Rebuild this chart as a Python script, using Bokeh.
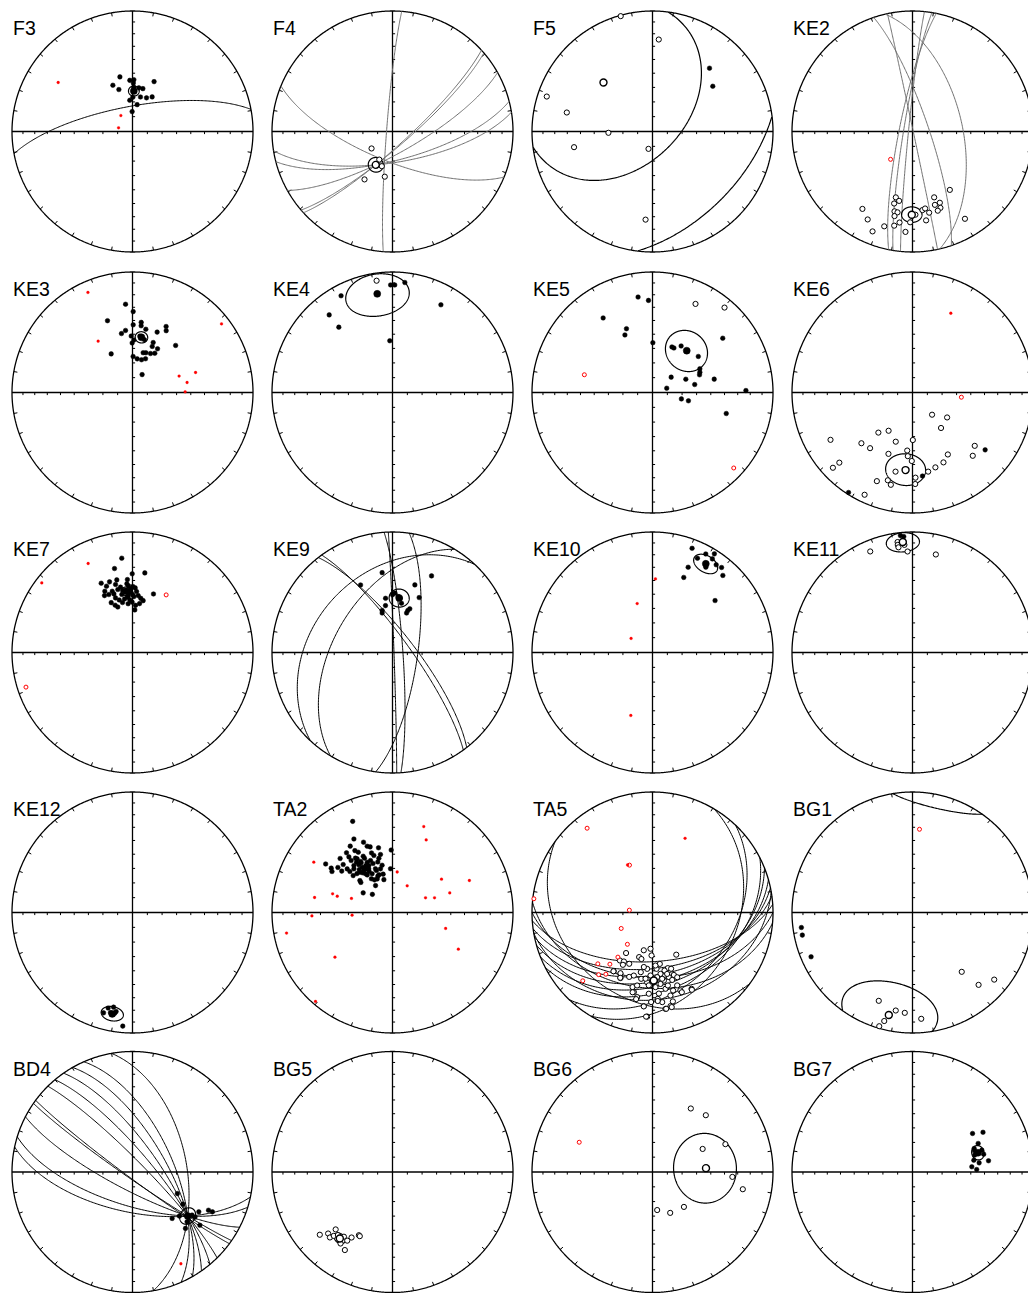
import numpy as np
from bokeh.plotting import figure
from bokeh.models import Range1d
from bokeh.embed import file_html
from bokeh.resources import INLINE
from bokeh.core.properties import value

# ---------------- DATA (declination, inclination; inc < 0 = upper hemisphere) ----------------
F3_dec = [347, 357, 1.5, 23.4, 337, 342, 1, 8.3, 13.6, 13, 22.6, 29.6, 0.5, 355, 9.8, 359, 1.7]
F3_inc = [51.6, 55, 54.6, 52.8, 55.7, 60, 57, 60, 60, 66, 65.3, 63, 66.8, 68.8, 71.6, 76.6, 60]
F3_rdec = [303.4, 323.9, 284.7]
F3_rinc = [27.0, 76.7, 80.3]
F3_mean = [1.9, 62.5, 3.5]
F3_gcdd = [349.4]
F3_gcdip = [73]

F4_dec = [231, 197.1, 205.2, 210.3, 189.7]
F4_inc = [-71.8, -65.4, -69, -52, -58.8]
F4_mean = [206.6, -64.7, 5]
F4_gcdd = [170.8, 165.5, 150.7, 139.3, 137.6, 274.4, 202.2]
F4_gcdip = [69, 70.4, 75.1, 79.7, 80.4, 86, 70]

F5_dec = [344.6, 3.9, 288.3, 282.5, 268.3, 258.7, 193, 184.5, 42, 53.1]
F5_inc = [-0.8, -24.5, -8.4, -28, -60, -34, -78, -27.5, 30, 37.5]
F5_mean = [315, -42, 63]

KE2_dec = [194.2, 190.9, 194.3, 192.7, 190.5, 192, 188.1, 191, 196.6, 201.8, 207, 212.9, 184,
           181.5, 178, 172.8, 170.7, 168.4, 171.3, 161.8, 163, 159, 159.9, 162.3, 147.4, 149]
KE2_inc = [-43, -41, -38.3, -32.6, -32.3, -29, -24.7, -21.5, -19, -11.7, -19.2, -24.5, -17.6,
           -25.6, -31.5, -34.6, -35.5, -31.8, -26.3, -42, -36.5, -36.8, -33, -31.6, -42, -16.6]
KE2_rdec = [218.2]
KE2_rinc = [-66]
KE2_mean = [180.5, -31.5, 6]
KE2_gcdd = [76.9, 71.2, 275.7, 279.3, 281.4, 78]
KE2_gcdip = [56, 79, 87.3, 84, 81, 89.5]

KE3_dec = [355.5, 0.5, 340.8, 0.6, 7.1, 7.4, 353.6, 349.4, 11.9, 22.2, 27, 28.6, 358.7, 1.5, 359.6,
           22.5, 23.2, 29.8, 42.5, 331.1, 15, 18.6, 24.8, 29.6, 1, 7.9, 15.4, 21.1, 28.2, 7.4, 12.8]
KE3_inc = [27.4, 33.3, 37, 43.2, 41, 43.5, 47, 48.8, 45.4, 45, 38.5, 41.2, 51.3, 54.1, 56.2,
           53, 55.8, 55.6, 46, 60, 62, 61.5, 60.8, 59.3, 65.6, 67, 67, 65.5, 76.3, 51, 53]
KE3_rdec = [336, 326.2, 52.4, 72.4, 70.6, 79.6, 89.3]
KE3_rinc = [10, 47.5, 7.5, 44.3, 56.3, 52, 54]
KE3_mean = [9.2, 51.7, 4]

KE4_dec = [332, 320.8, 320.6, 359, 1.2, 6.4, 28.9, 357, 351.9]
KE4_inc = [10, 18, 30.5, 11.7, 11.7, 9, 18, 54.6, -7]
KE4_mean = [351.2, 18.3, 17.5]

KE5_dec = [351.4, 357.5, 326.5, 337.8, 334.4, 0.4, 23.1, 25.7, 31.6, 51.8, 52.3, 63.4, 66.8, 69.4,
           50.6, 68.2, 77.8, 79.3, 73.2, 88.8, 102.5, 103, 105.9, 25.9, 40.3]
KE5_inc = [21, 24.5, 26.7, 42.3, 46, 56, 56.2, 56.3, 52.6, 50, 27.2, 53.8, 54.8, 55.7,
           73.7, 65.7, 46.5, 60.8, 80, 23.5, 70, 65, 36.5, -19.4, -8.4]
KE5_rdec = [284.6, 132.9]
KE5_rinc = [-41.2, -8.8]
KE5_mean = [39.3, 53, 14]

KE6_dec = [240, 226.6, 226.2, 225.2, 217.3, 220.4, 212, 198.8, 179.6, 201.4, 185.2, 184.2, 180.6,
           192.1, 201.9, 195.7, 193.2, 205.1, 178, 178.3, 168.8, 163, 156.1, 150.3, 141.2, 138.6,
           125.8, 136.4, 130.6, 128.3, 173.2, 212.6]
KE6_inc = [-22.5, -10, -17, -40, -41.5, -54, -59.3, -54.5, -57.6, -44.5, -50, -46, -42.6,
           -33.3, -21.8, -25.3, -22.4, -7, -30, -25, -33.5, -35.3, -36.7, -40.5, -59, -70,
           -61, -28.3, -32.5, 24.2, 30.8, 1.7]
KE6_rdec = [25.8, 95.5]
KE6_rinc = [27.8, -56.5]
KE6_mean = [185.1, -35.6, 12]

KE7_dec = [353.5, 347.9, 8.8, 359.8, 347.8, 356, 335.7, 342, 338.6, 346, 355.3, 356.6, 0.3, 2.4,
           335.7, 341.7, 346.9, 351.1, 358.4, 3.8, 19.7, 333.8, 342.4, 349.6, 355.6, 1.4, 5.7,
           342.7, 345.8, 351.5, 357.1, 8.7, 11.6, 336.9, 339.9, 342.1, 354.9, 359.6, 3.7, 8.2,
           3.1, 348.7, 337.8, 358.2, 349.6, 354.5, 0]
KE7_inc = [22.3, 29.5, 33.6, 35, 38.3, 39.2, 37, 38.3, 40.6, 41.4, 42.3, 43.9, 44.4, 45.4,
           43.5, 45.5, 45.4, 46.8, 48.5, 48, 47.2, 46.3, 47.7, 49.5, 51.1, 51.7, 50.8,
           50.8, 52.9, 53, 54, 52.5, 53.8, 52.9, 55.6, 57.4, 56.6, 55.6, 57.8, 56.3,
           61, 55.2, 46.9, 46.2, 44.1, 52, 50.3]
KE7_rdec = [333.5, 307.5, 30.3, 252]
KE7_rinc = [18.6, 5.7, -43.9, -7.8]
KE7_mean = [354.1, 47.6, 3.1]

KE9_dec = [352.6, 27, 334.7, 18.3, 2.3, 0, 5.8, 8, 352.7, 25.9, 10.3, 351.5, 346.2, 345.3, 20, 21.6, 19.6]
KE9_inc = [33.6, 29.4, 38, 40.6, 49.2, 50.3, 51.5, 52.5, 52.6, 48, 55.8, 57.7, 60.6, 62.3, 59.6, 58, 61.5]
KE9_mean = [7, 52.4, 6.4]
KE9_gcdd = [52, 54, 301, 313, 98, 86, 88]
KE9_gcdip = [76, 79, 50, 34, 73, 83, 89]

KE10_dec = [20.8, 28.4, 32.1, 25.5, 32.6, 30.8, 32, 36, 39.1, 22.7, 42.4, 22.6, 50.3]
KE10_inc = [8.3, 7.8, 3.8, 14.4, 8.6, 14.8, 17.6, 11, 10, 24.3, 14.5, 33, 33]
KE10_rdec = [2.3, 342.6, 303.3, 199]
KE10_rinc = [38.8, 55, 72.7, 44]
KE10_mean = [31, 15.2, 7]

KE11_dec = [354.1, 355.7, 337.3, 13.4, 357.2, 352.3, 352.2, 352.4, 355.7]
KE11_inc = [2.8, 4, -10, -17.5, -17.2, -8.3, -10.8, -13, -11.4]
KE11_mean = [355, -8.8, 8.5]

KE12_dec = [194.3, 191.3, 196.1, 192.4, 189.4, 190, 184.9]
KE12_inc = [19.3, 21, 14.4, 16, 17.8, 16.3, 6]
KE12_mean = [191.3, 15.3, 6]

TA2_dec = [336.4, 332.3, 337.6, 339.1, 341.2, 347.8, 358.8, 327.5, 328.7, 322.4, 330.4, 340.6, 348.3,
           315.9, 321.9, 321.5, 326.6, 327.9, 332.7, 333.3, 337.1, 338.3, 343.8, 347.6, 306, 305.9,
           304.1, 309.5, 314.2, 313.9, 320.6, 324.8, 326.2, 328.3, 331.5, 338.7, 344.6, 357.4, 313.2,
           317.6, 322.9, 326.1, 332.3, 339.1, 340.5, 314.4, 335.5, 345.3, 331.1, 303.8, 312, 327.8,
           330.4, 325.7, 322.2, 330.4, 324.4, 328, 338, 309.2, 313.9, 327.8, 313.5, 346.3,
           325.7, 332.5, 333.3, 321, 325.1, 318.5, 341.9, 345.9]
TA2_inc = [18.6, 31.7, 37, 40.8, 42, 44.3, 47, 35, 39.7, 37.5, 42, 46.5, 49.3,
           37.6, 41, 44.1, 45.7, 48.6, 48, 51.4, 51.3, 54, 54, 57, 32, 37.3,
           39.2, 40.9, 42.4, 46.7, 48.2, 49.9, 52.7, 55, 56, 58, 59.2, 60.2, 53.1,
           54, 56, 59.2, 60.2, 59.4, 62.8, 58.9, 65, 67, 64.7, 66.1, 71.7, 49.7,
           53.1, 55.3, 52.9, 57.8, 47.4, 63, 63.4, 44.8, 49.4, 68.5, 60.3, 63.2,
           44.6, 46.3, 54, 54.5, 57.8, 50, 48.8, 51.7]
TA2_rdec = [20, 24.9, 302.6, 6.6, 55.8, 67.4, 28.8, 71.1, 66, 70.7, 280.9, 287.3, 286.4, 288.9,
            267.6, 266.2, 259, 106.7, 119.1, 232.2, 220.9]
TA2_rinc = [25.1, 34, 23.5, 62.3, 49.3, 31.5, 69.4, 48.4, 65.5, 59.7, 34.5, 46.8, 50.5, 60.5,
            33.5, 62.5, 11.4, 52, 37.5, 39.4, 2.7]

TA5_dec = [213.1, 193, 183.2, 196.7, 193.4, 181.3, 214.2, 210.3, 209.5, 204.4, 171.9, 164.6, 150.6,
           213.4, 207.6, 206, 199.9, 191.1, 185.4, 175.9, 168.3, 161.7, 181.8, 172.6, 165.8, 189.7,
           184.4, 170.5, 163.7, 161.3, 160.3, 152.9, 193.2, 190.3, 182.6, 175.5, 170.3, 167.8, 173.8,
           169.1, 172.3, 185.3, 182.9, 195, 191.9, 177.7, 173.6, 168.1, 165.2, 176.5, 180.9, 153,
           159.8, 167.1, 171.9, 185.3, 183.5, 194, 190.7, 213.6, 207.8, 206.3, 176.6, 168.5,
           175.9, 186, 182.9, 171.7, 166.6, 161.1, 176.8, 189, 196.5, 159.1]
TA5_inc = [-57, -63.7, -65.4, -58.3, -57.4, -60.8, -50.2, -51.1, -48.7, -51.4, -54.5, -50.4, -57,
           -41.2, -42, -39.3, -42.6, -48.2, -51.2, -51.3, -49.3, -49.3, -46.6, -47.4, -44, -43.5,
           -41.5, -42.2, -41.3, -36.3, -31.9, -29.6, -32.7, -29.4, -33, -33, -36, -30.2, -26.1,
           -22, -20.4, -23, -14.6, -36.1, -38.1, -38, -40.1, -38.1, -33.5, -29, -26.6, -28.8,
           -30.2, -25.3, -20.4, -22.8, -14.5, -32.3, -27.7, -41.1, -42.5, -39.4, -27.3, -21,
           -45.3, -44, -39.3, -43.7, -46.5, -44.4, -53.7, -52.2, -44.6, -42]
TA5_rdec = [322.2, 276.6, 334.1, 275.8, 243, 218.3, 217.8, 226.8, 219.5, 220.9, 217.1, 225.6, 23.7, 332.3]
TA5_rinc = [-12.5, -1, -54, -74.3, -66.2, -62.5, -51.3, -37.8, -43.7, -32.3, -36, -20.1, 33.2, 53.3]
TA5_mean = [178.9, -43, 2.5]
TA5_gcdd = [216, 120.7, 133.6, 176.1, 172.2, 168.2, 164.2, 158.3, 153, 180, 185, 170]
TA5_gcdip = [27.6, 31, 35.6, 56.5, 51.7, 47.2, 42.9, 40, 36, 45, 37.2, 28.5]

BG1_dec = [262.3, 258.4, 246.4, 140.3, 137.6, 129.4, 200.9, 189.7, 184.4, 194.6, 196.3, 175.3]
BG1_inc = [7.7, 7.4, 9, -36.2, -19.8, -13.3, -22.6, -18.6, -17.6, -7.7, -1.9, -12.5]
BG1_rdec = [4.8]
BG1_rinc = [-31.3]
BG1_mean = [193, -13.7, 26]

BD4_dec = [115.7, 122.6, 139.5, 133.2, 125.9, 125.9, 121, 132.4, 136.8, 128.3, 116.7, 116.5]
BD4_inc = [56, 49, 48, 45.6, 38.9, 36.3, 36, 38.6, 36, 29.5, 30.1, 26.8]
BD4_rdec = [152.2]
BD4_rinc = [15]
BD4_mean = [128.6, 41, 5.4]
BD4_gcdd = [66.2, 60.2, 55.1, 50, 216.5, 214.7, 197, 45.4, 207.3, 192, 80]
BD4_gcdip = [62, 67, 72, 77, 86, 85.5, 67, 82.3, 77.3, 62.7, 52.7]

BG5_dec = [229.2, 226.3, 224.7, 223.7, 222.6, 220.9, 216.9, 213.4, 212, 208, 207, 211.4, 216]
BG5_inc = [-21.4, -27, -33.4, -25.8, -28.8, -31.4, -33.3, -32.3, -36.1, -40.3, -40, -25.1, -27.5]
BG5_mean = [218.4, -30.3, 3.6]

BG6_dec = [31.1, 43.2, 65.3, 69.1, 93.5, 100.8, 138, 156.6, 173]
BG6_inc = [-38.4, -35.6, -52.2, -35.5, -34, -24.7, -58, -59.7, -64]
BG6_rdec = [292.1]
BG6_rinc = [-34.7]
BG6_mean = [85.9, -53.3, 22.4]

BG7_dec = [57.3, 60.6, 66.5, 69.1, 71.1, 72.5, 76, 74.8, 79.1, 82.2, 81.6, 85, 87.8]
BG7_inc = [40.5, 33.3, 40.3, 44.4, 44.8, 39.5, 39, 45.6, 47, 43.5, 36.4, 49.1, 45.7]
BG7_mean = [73.6, 42.8, 4.5]

E = []
SITES = {
    "F3": (F3_dec, F3_inc, F3_rdec, F3_rinc, F3_mean, F3_gcdd, F3_gcdip),
    "F4": (F4_dec, F4_inc, E, E, F4_mean, F4_gcdd, F4_gcdip),
    "F5": (F5_dec, F5_inc, E, E, F5_mean, E, E),
    "KE2": (KE2_dec, KE2_inc, KE2_rdec, KE2_rinc, KE2_mean, KE2_gcdd, KE2_gcdip),
    "KE3": (KE3_dec, KE3_inc, KE3_rdec, KE3_rinc, KE3_mean, E, E),
    "KE4": (KE4_dec, KE4_inc, E, E, KE4_mean, E, E),
    "KE5": (KE5_dec, KE5_inc, KE5_rdec, KE5_rinc, KE5_mean, E, E),
    "KE6": (KE6_dec, KE6_inc, KE6_rdec, KE6_rinc, KE6_mean, E, E),
    "KE7": (KE7_dec, KE7_inc, KE7_rdec, KE7_rinc, KE7_mean, E, E),
    "KE9": (KE9_dec, KE9_inc, E, E, KE9_mean, KE9_gcdd, KE9_gcdip),
    "KE10": (KE10_dec, KE10_inc, KE10_rdec, KE10_rinc, KE10_mean, E, E),
    "KE11": (KE11_dec, KE11_inc, E, E, KE11_mean, E, E),
    "KE12": (KE12_dec, KE12_inc, E, E, KE12_mean, E, E),
    "TA2": (TA2_dec, TA2_inc, TA2_rdec, TA2_rinc, None, E, E),
    "TA5": (TA5_dec, TA5_inc, TA5_rdec, TA5_rinc, TA5_mean, TA5_gcdd, TA5_gcdip),
    "BG1": (BG1_dec, BG1_inc, BG1_rdec, BG1_rinc, BG1_mean, E, E),
    "BD4": (BD4_dec, BD4_inc, BD4_rdec, BD4_rinc, BD4_mean, BD4_gcdd, BD4_gcdip),
    "BG5": (BG5_dec, BG5_inc, E, E, BG5_mean, E, E),
    "BG6": (BG6_dec, BG6_inc, BG6_rdec, BG6_rinc, BG6_mean, E, E),
    "BG7": (BG7_dec, BG7_inc, E, E, BG7_mean, E, E),
}
LAYOUT = [["F3", "F4", "F5", "KE2"],
          ["KE3", "KE4", "KE5", "KE6"],
          ["KE7", "KE9", "KE10", "KE11"],
          ["KE12", "TA2", "TA5", "BG1"],
          ["BD4", "BG5", "BG6", "BG7"]]
GRAY_GC = {"F4", "KE2"}

# ---------------- geometry ----------------
W, H = 1028, 1293
R = 120.5
COL_X = [132, 392, 652, 912]
ROW_Y = [131, 392, 652, 912, 1171.5]


def vec(dec, inc):
    d = np.radians(np.asarray(dec, float))
    i = np.radians(np.asarray(inc, float))
    return np.array([np.cos(i) * np.sin(d), np.cos(i) * np.cos(d), np.sin(i)])


def proj(v):
    f = 1.0 / np.sqrt(1.0 + np.abs(v[2]))
    return v[0] * f, v[1] * f


def great_circle(dd, dip, n=181):
    s = np.radians(dd - 90.0)
    a = np.radians(dd)
    d = np.radians(dip)
    t = np.linspace(0, np.pi, n)
    sv = np.array([np.sin(s), np.cos(s), 0.0])
    dv = np.array([np.sin(a) * np.cos(d), np.cos(a) * np.cos(d), np.sin(d)])
    v = np.outer(sv, np.cos(t)) + np.outer(dv, np.sin(t))
    return proj(v)


def cone(dec, inc, a95, n=361):
    m = vec(dec, inc)
    ref = np.array([0, 0, 1.0]) if abs(m[2]) < 0.9 else np.array([1.0, 0, 0])
    u = np.cross(m, ref)
    u /= np.linalg.norm(u)
    w = np.cross(m, u)
    t = np.linspace(0, 2 * np.pi, n)
    a = np.radians(a95)
    c = np.cos(a) * m[:, None] + np.sin(a) * (np.outer(u, np.cos(t)) + np.outer(w, np.sin(t)))
    sgn = 1.0 if inc >= 0 else -1.0
    flip = (c[2] * sgn) < 0
    c = np.where(flip[None, :], -c, c)
    x, y = proj(c)
    segs = []
    start = 0
    for k in range(1, n):
        if flip[k] != flip[k - 1]:
            segs.append((x[start:k], y[start:k]))
            start = k
    segs.append((x[start:], y[start:]))
    if len(segs) > 1 and flip[0] == flip[-1]:
        last = segs.pop()
        segs[0] = (np.concatenate([last[0], segs[0][0]]), np.concatenate([last[1], segs[0][1]]))
    return segs


p = figure(width=W, height=H, x_range=Range1d(0, W), y_range=Range1d(H, 0),
           toolbar_location=None, output_backend="svg", min_border=0,
           x_axis_location=None, y_axis_location=None)
p.grid.visible = False
p.outline_line_color = None
p.background_fill_color = "white"
p.border_fill_color = "white"

frame_xs, frame_ys = [], []
tick_xs, tick_ys = [], []
gc_xs, gc_ys, gc_col = [], [], []
cone_xs, cone_ys = [], []
groups = {k: ([], []) for k in ["fill", "open", "rfill", "ropen", "mfill", "mopen"]}
lab_x, lab_y, lab_t = [], [], []

tick_r = np.sqrt(1 - np.sin(np.radians(np.arange(10, 90, 10))))

for r_i, row in enumerate(LAYOUT):
    for c_i, name in enumerate(row):
        cx, cy = COL_X[c_i], ROW_Y[r_i]
        dec, inc, rdec, rinc, mean, gcdd, gcdip = SITES[name]
        t = np.linspace(0, 2 * np.pi, 721)
        frame_xs.append(list(cx + R * np.sin(t)))
        frame_ys.append(list(cy - R * np.cos(t)))
        frame_xs += [[cx - R, cx + R], [cx, cx]]
        frame_ys += [[cy, cy], [cy - R, cy + R]]
        for rr in tick_r:
            for sgn in (-1, 1):
                tick_xs.append([cx + sgn * R * rr, cx + sgn * R * rr])
                tick_ys.append([cy, cy + 2.6])
                tick_xs.append([cx, cx + 2.6])
                tick_ys.append([cy + sgn * R * rr, cy + sgn * R * rr])
        for az in range(0, 360, 10):
            if az % 90 == 0:
                continue
            a = np.radians(az)
            tick_xs.append([cx + (R - 3.6) * np.sin(a), cx + R * np.sin(a)])
            tick_ys.append([cy - (R - 3.6) * np.cos(a), cy - R * np.cos(a)])
        for dd, dp in zip(gcdd, gcdip):
            x, y = great_circle(dd, dp)
            gc_xs.append(list(cx + R * x))
            gc_ys.append(list(cy - R * y))
            gc_col.append("#6f6f6f" if name in GRAY_GC else "black")
        if mean is not None:
            for x, y in cone(*mean):
                cone_xs.append(list(cx + R * x))
                cone_ys.append(list(cy - R * y))
            x, y = proj(vec([mean[0]], [mean[1]]))
            g = "mfill" if mean[1] >= 0 else "mopen"
            groups[g][0].extend(cx + R * x)
            groups[g][1].extend(cy - R * y)
        if dec:
            x, y = proj(vec(dec, inc))
            for xi, yi, ii in zip(x, y, inc):
                g = "fill" if ii >= 0 else "open"
                groups[g][0].append(cx + R * xi)
                groups[g][1].append(cy - R * yi)
        if rdec:
            x, y = proj(vec(rdec, rinc))
            for xi, yi, ii in zip(x, y, rinc):
                g = "rfill" if ii >= 0 else "ropen"
                groups[g][0].append(cx + R * xi)
                groups[g][1].append(cy - R * yi)
        lab_x.append(cx - 119.5)
        lab_y.append(cy - 103.3)
        lab_t.append(name)

p.multi_line(frame_xs, frame_ys, line_color="black", line_width=1.3)
p.multi_line(tick_xs, tick_ys, line_color="black", line_width=1.0)
p.multi_line(gc_xs, gc_ys, line_color=gc_col, line_width=1.0)
p.multi_line(cone_xs, cone_ys, line_color="black", line_width=1.2)

p.scatter(groups["open"][0], groups["open"][1], marker="circle", size=5.2,
          fill_color="white", line_color="black", line_width=1.0)
p.scatter(groups["fill"][0], groups["fill"][1], marker="circle", size=4.6,
          fill_color="black", line_color="black", line_width=0.5)
p.scatter(groups["ropen"][0], groups["ropen"][1], marker="circle", size=4.0,
          fill_color="white", line_color="red", line_width=1.0)
p.scatter(groups["rfill"][0], groups["rfill"][1], marker="circle", size=2.8,
          fill_color="red", line_color="red", line_width=0.3)
p.scatter(groups["mopen"][0], groups["mopen"][1], marker="circle", size=7.0,
          fill_color="white", line_color="black", line_width=1.4)
p.scatter(groups["mfill"][0], groups["mfill"][1], marker="circle", size=7.0,
          fill_color="black", line_color="black", line_width=0.5)

p.text(lab_x, lab_y, text=lab_t, text_font=value("Liberation Sans"), text_font_size="19.5px",
       text_color="black", text_baseline="alphabetic", text_align="left")

open("out.html", "w").write(file_html(p, INLINE, title="stereonets"))
